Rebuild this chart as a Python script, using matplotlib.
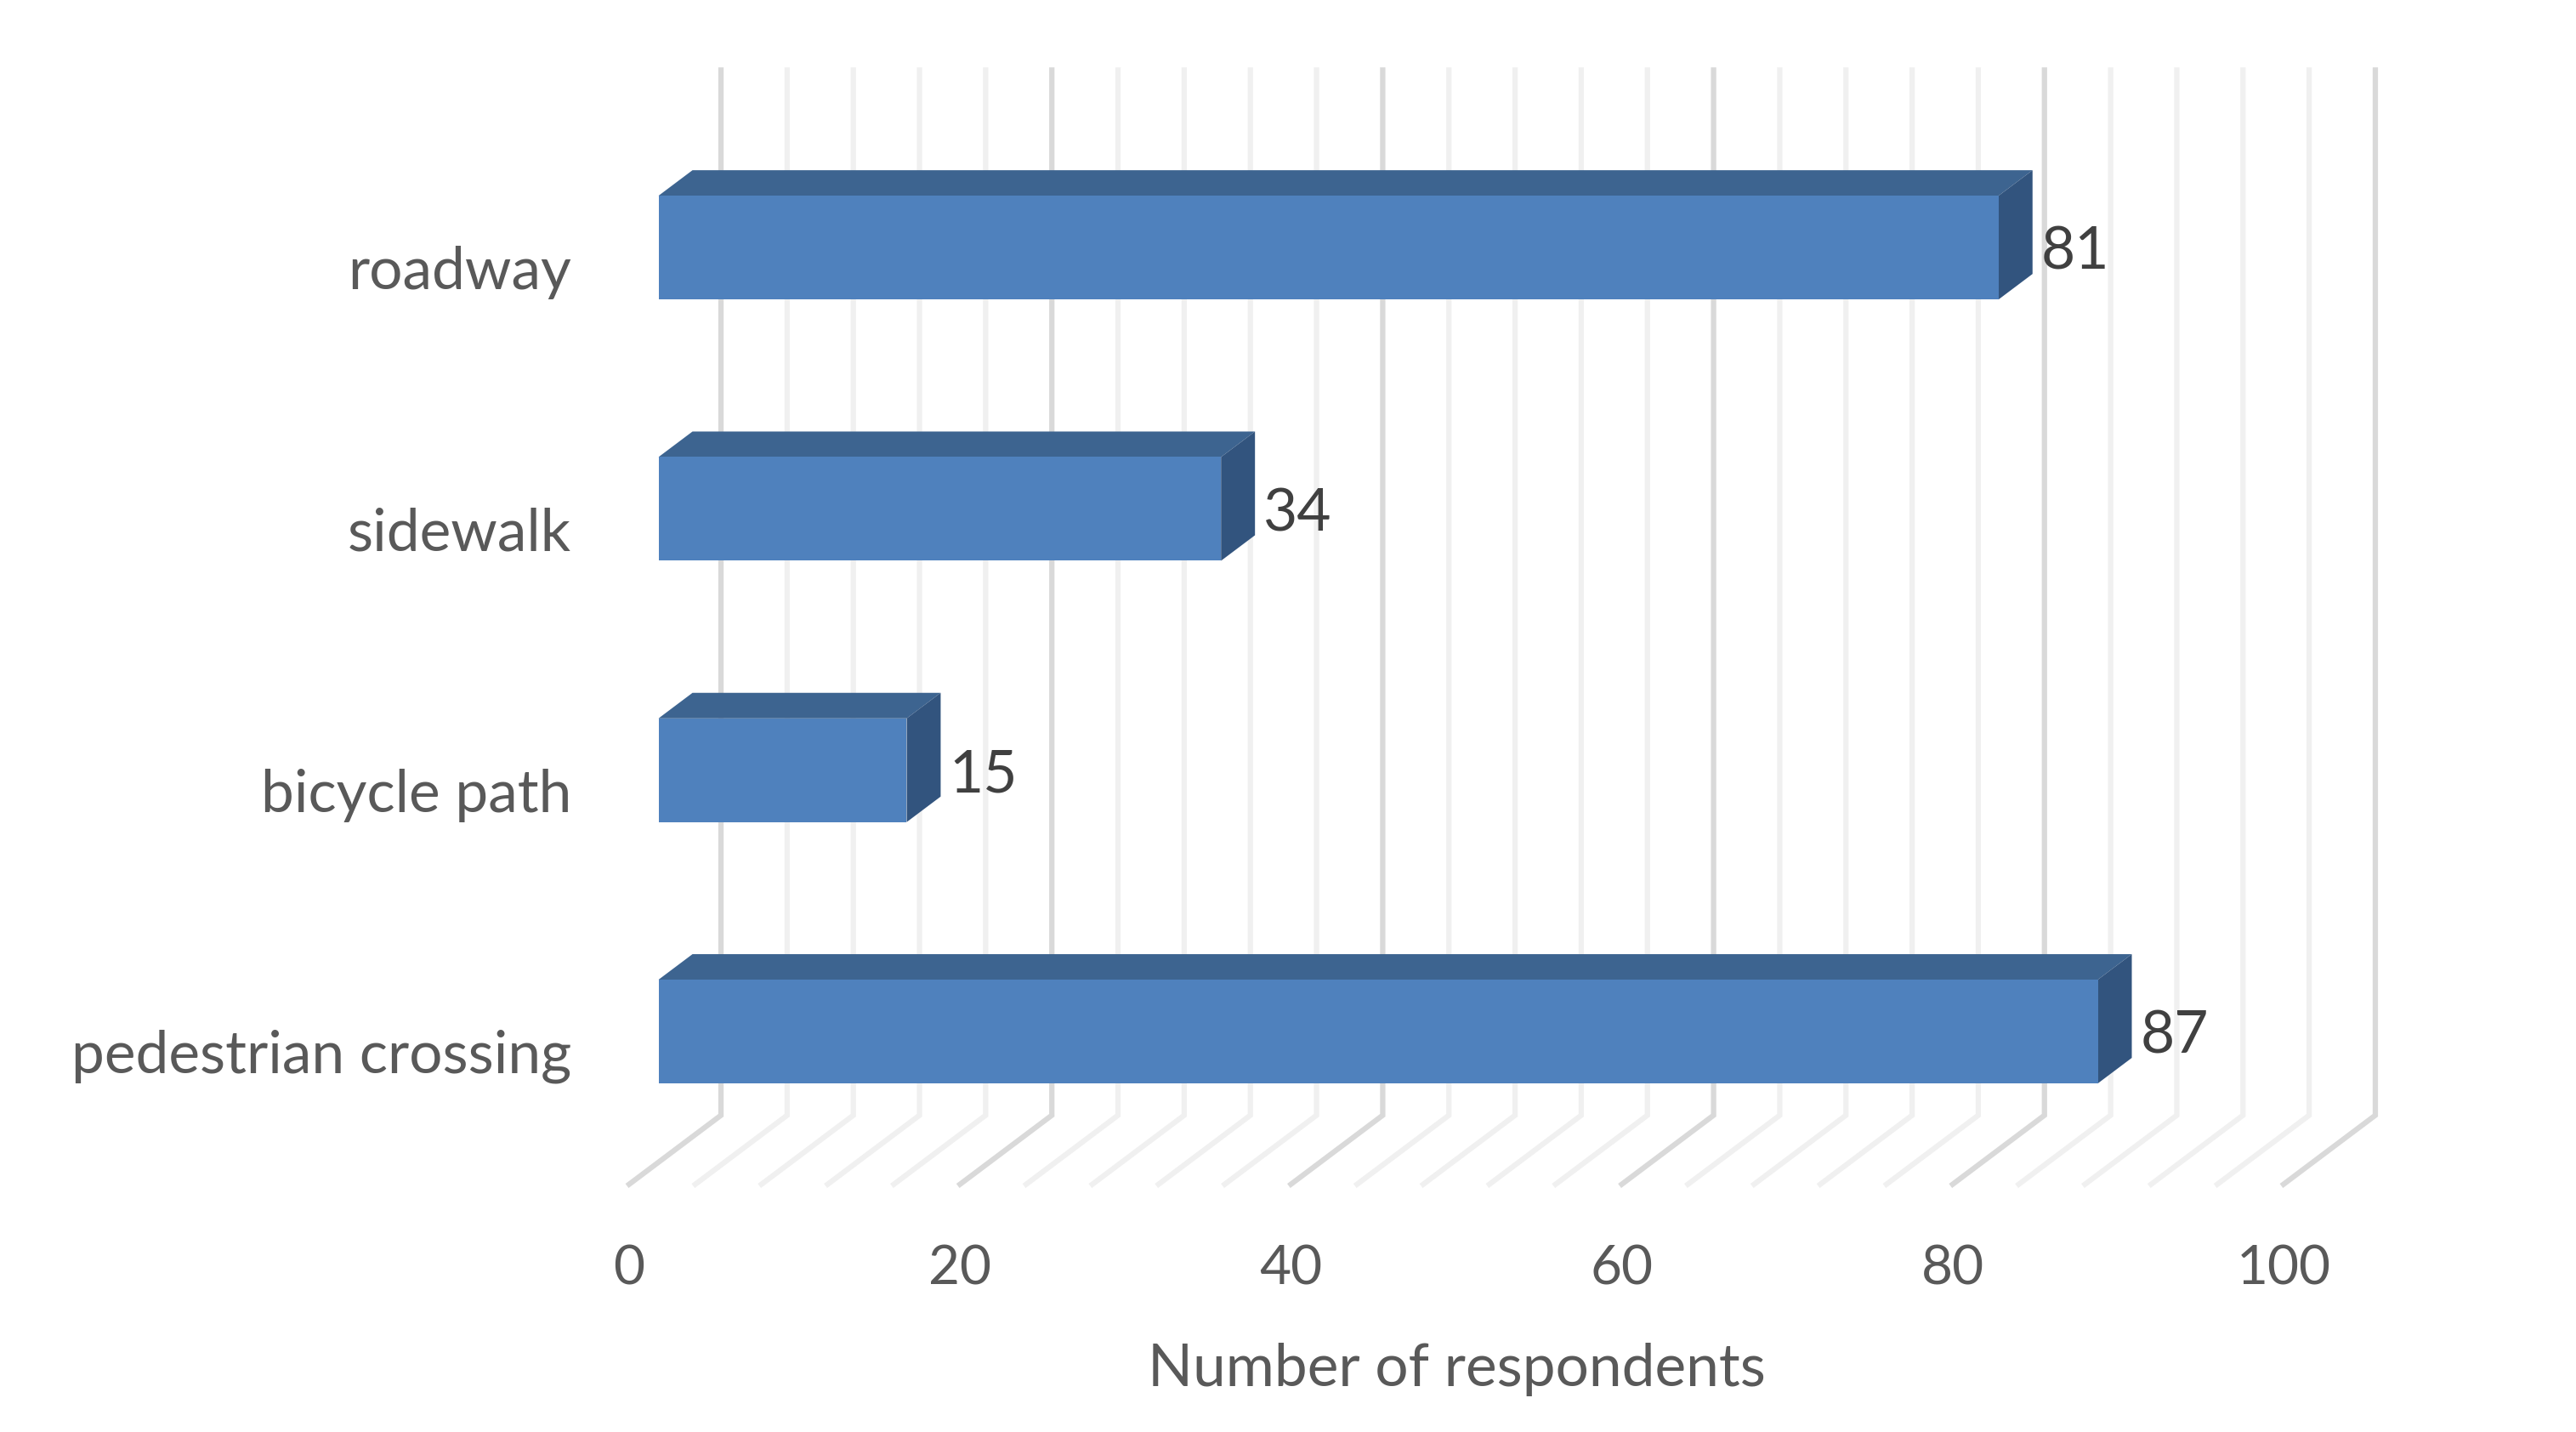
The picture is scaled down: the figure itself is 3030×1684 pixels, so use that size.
import numpy as np
import matplotlib.pyplot as plt

plt.rcParams['font.family'] = ['Lato', 'DejaVu Sans']

categories = ["pedestrian crossing", "bicycle path", "sidewalk", "roadway"]
values = [87, 15, 34, 81]
tick_values = [0, 20, 40, 60, 80, 100]
minor_step = 4
xlabel = "Number of respondents"

# fake 3d: depth shift of the back wall, in data units (value, category)
DX, DY = 5.55, 0.264
D0, D1 = 0.32, 0.69      # bar front / back depth
BAR_H = 0.397
FRONT, TOP, SIDE = "#4F81BD", "#3D6490", "#32547E"

fig = plt.figure(figsize=(30.3, 16.84), dpi=100)
ax = fig.add_axes([0, 0, 1, 1])
ax.set_xlim(-38.03, 117.68)
ax.set_ylim(-1.448, 4.032)
ax.axis("off")

c_lo, c_hi = -0.5, len(categories) - 0.5

# floor + wall gridlines
for v in np.arange(0, tick_values[-1] + 1, minor_step):
    major = v % 20 == 0
    ax.plot([v, v + DX, v + DX], [c_lo, c_lo + DY, c_hi + DY],
            color="#D9D9D9" if major else "#F0F0F0", lw=4.5,
            solid_joinstyle="miter", zorder=1)

def proj(v, c, d):
    return v + d * DX, c + d * DY

for i, (cat, val) in enumerate(zip(categories, values)):
    lo, hi = i - BAR_H / 2, i + BAR_H / 2
    front = [proj(0, lo, D0), proj(val, lo, D0), proj(val, hi, D0), proj(0, hi, D0)]
    top = [proj(0, hi, D0), proj(val, hi, D0), proj(val, hi, D1), proj(0, hi, D1)]
    side = [proj(val, lo, D0), proj(val, lo, D1), proj(val, hi, D1), proj(val, hi, D0)]
    for pts, col in ((top, TOP), (side, SIDE), (front, FRONT)):
        xs, ys = zip(*pts)
        ax.fill(xs, ys, color=col, lw=0, zorder=3)
    # data label
    lx, ly = proj(val, i, D1)
    ax.text(lx + 0.5, i + D0 * DY - 0.02, str(val), ha="left", va="center",
            fontsize=50, color="#404040", zorder=4)
    # category label
    ax.text(-3.5, i - 0.012, cat, ha="right", va="center", fontsize=50, color="#595959")

for t in tick_values:
    ax.text(t, -0.825, str(t), ha="center", va="center", fontsize=46, color="#595959")

ax.text(50, -1.21, xlabel, ha="center", va="center", fontsize=50, color="#595959")

fig.savefig("out.png", dpi=100, facecolor="white")
